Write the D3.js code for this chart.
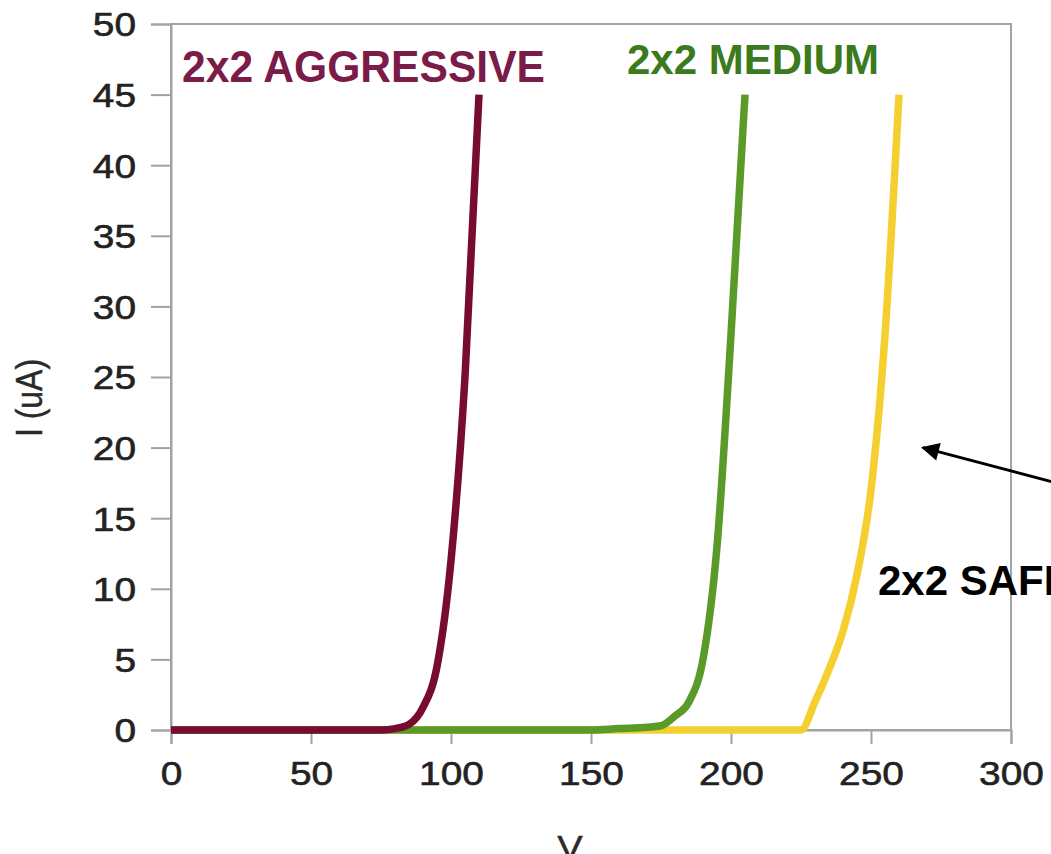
<!DOCTYPE html>
<html>
<head>
<meta charset="utf-8">
<script src="https://cdn.jsdelivr.net/npm/d3@7"></script>
<style>
  html, body { margin: 0; padding: 0; background: #ffffff; overflow: hidden; }
  svg { display: block; }
</style>
</head>
<body>
<svg id="chart" width="1051" height="854"></svg>
<script>
// I-V sweeps for the three 2x2 profiles (V in volts, I in microamps)
const aggressiveV = [0, 25, 50, 75, 80, 85, 90, 95, 100, 105, 110];
const aggressiveI = [0, 0, 0, 0, 0.1, 0.4, 1.6, 4.5, 12, 25, 45];

const mediumV = [0, 50, 100, 150, 160, 170, 175, 180, 185, 190, 195, 200, 205];
const mediumI = [0, 0, 0, 0, 0.1, 0.2, 0.3, 1.0, 2.0, 5.0, 13, 28, 45];

const safeV = [0, 50, 100, 150, 200, 225, 230, 235, 240, 245, 250, 255, 260];
const safeI = [0, 0, 0, 0, 0, 0, 2.0, 4.3, 7.0, 11, 17, 28, 45];

const xTicks = [0, 50, 100, 150, 200, 250, 300];
const yTicks = [0, 5, 10, 15, 20, 25, 30, 35, 40, 45, 50];

const seriesNames = ["2x2 SAFE", "2x2 MEDIUM", "2x2 AGGRESSIVE"];
const lineColors = ["#f4cf2f", "#5a9a29", "#780c30"];
const labelColors = ["#000000", "#3b7a1d", "#7a1b48"];

// annotation arrow (tail -> head) in data units
const arrowTail = [318, 17.4];
const arrowHead = [268.5, 20];

const svg = d3.select("#chart");
const margin = { left: 171, right: 40, top: 24, bottom: 124 };
const W = 1051, H = 854;

const x = d3.scaleLinear().domain([0, 300]).range([margin.left, W - margin.right]);
const y = d3.scaleLinear().domain([0, 50]).range([H - margin.bottom, margin.top]);

const axisColor = "#a3a3a3";
const digitW = 21.6;
const tickFont = "Liberation Sans, Arial, sans-serif";

// plot frame
svg.append("rect")
  .attr("x", x(0)).attr("y", y(50))
  .attr("width", x(300) - x(0)).attr("height", y(0) - y(50))
  .attr("fill", "none").attr("stroke", axisColor).attr("stroke-width", 2);

// y axis
const gy = svg.append("g").attr("transform", `translate(${x(0)},0)`)
  .call(d3.axisLeft(y).tickValues(yTicks).tickSize(20).tickPadding(15).tickFormat(d3.format("d")));
gy.select(".domain").attr("stroke", axisColor).attr("stroke-width", 2);
gy.selectAll(".tick line").attr("stroke", axisColor).attr("stroke-width", 2);
gy.selectAll(".tick text")
  .attr("fill", "#222")
  .attr("stroke", "#222").attr("stroke-width", 0.6)
  .attr("font-family", tickFont)
  .attr("font-size", 33)
  .attr("dy", "0.36em")
  .attr("textLength", d => String(d).length * digitW)
  .attr("lengthAdjust", "spacingAndGlyphs");

// x axis
const gx = svg.append("g").attr("transform", `translate(0,${y(0)})`)
  .call(d3.axisBottom(x).tickValues(xTicks).tickSize(14).tickPadding(18).tickFormat(d3.format("d")));
gx.select(".domain").attr("stroke", axisColor).attr("stroke-width", 2);
gx.selectAll(".tick line").attr("stroke", axisColor).attr("stroke-width", 2);
gx.selectAll(".tick text")
  .attr("fill", "#222")
  .attr("stroke", "#222").attr("stroke-width", 0.6)
  .attr("font-family", tickFont)
  .attr("font-size", 33)
  .attr("dy", "0.71em")
  .attr("textLength", d => String(d).length * digitW)
  .attr("lengthAdjust", "spacingAndGlyphs");

// axis titles
svg.append("text")
  .attr("transform", "translate(42,398) scale(1.16,1) rotate(-90)")
  .attr("text-anchor", "middle")
  .attr("font-family", tickFont)
  .attr("font-size", 32)
  .attr("fill", "#2a2a2a")
  .attr("stroke", "#2a2a2a").attr("stroke-width", 0.4)
  .text("I (uA)");

svg.append("text")
  .attr("transform", "translate(570,859) scale(1.16,1)")
  .attr("text-anchor", "middle")
  .attr("font-family", tickFont)
  .attr("font-size", 33)
  .attr("fill", "#2a2a2a")
  .attr("stroke", "#2a2a2a").attr("stroke-width", 0.4)
  .text("V");

// curves: safe below medium, aggressive on top
const line = d3.line().x(d => x(d[0])).y(d => y(d[1])).curve(d3.curveMonotoneX);
const series = [
  d3.zip(safeV, safeI),
  d3.zip(mediumV, mediumI),
  d3.zip(aggressiveV, aggressiveI)
];
svg.append("g").selectAll("path")
  .data(series)
  .join("path")
  .attr("d", line)
  .attr("fill", "none")
  .attr("stroke", (d, i) => lineColors[i])
  .attr("stroke-width", 7.5)
  .attr("stroke-linejoin", "round");

// series labels
const labelFont = "Liberation Sans, Arial, sans-serif";
svg.append("text")
  .attr("x", 182).attr("y", 82)
  .attr("font-family", labelFont).attr("font-weight", "bold").attr("font-size", 44)
  .attr("fill", labelColors[2])
  .attr("textLength", 363).attr("lengthAdjust", "spacingAndGlyphs")
  .text(seriesNames[2]);

svg.append("text")
  .attr("x", 627).attr("y", 74)
  .attr("font-family", labelFont).attr("font-weight", "bold").attr("font-size", 42)
  .attr("fill", labelColors[1])
  .attr("textLength", 252).attr("lengthAdjust", "spacingAndGlyphs")
  .text(seriesNames[1]);

svg.append("text")
  .attr("x", 878).attr("y", 595)
  .attr("font-family", labelFont).attr("font-weight", "bold").attr("font-size", 42)
  .attr("fill", labelColors[0])
  .text(seriesNames[0]);

// arrow pointing at the safe curve
svg.append("defs").append("marker")
  .attr("id", "arrowhead")
  .attr("viewBox", "0 0 10 10")
  .attr("refX", 9).attr("refY", 5)
  .attr("markerWidth", 8).attr("markerHeight", 6)
  .attr("markerUnits", "strokeWidth")
  .attr("orient", "auto")
  .append("path").attr("d", "M0,0 L10,5 L0,10 Z").attr("fill", "#000");

svg.append("line")
  .attr("x1", x(arrowTail[0])).attr("y1", y(arrowTail[1]))
  .attr("x2", x(arrowHead[0])).attr("y2", y(arrowHead[1]))
  .attr("stroke", "#000").attr("stroke-width", 3)
  .attr("marker-end", "url(#arrowhead)");
</script>
</body>
</html>
